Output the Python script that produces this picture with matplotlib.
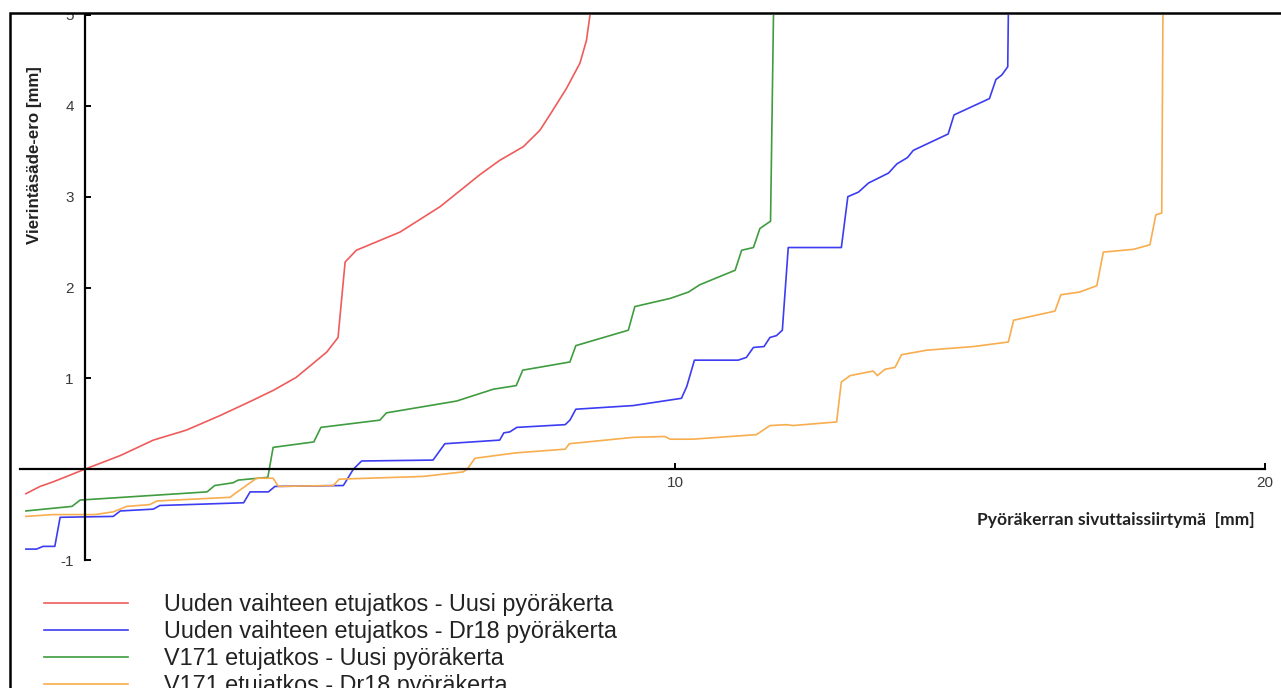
import matplotlib
matplotlib.use("Agg")
import matplotlib.pyplot as plt
from matplotlib.patches import Rectangle

# values (x = sideways shift [mm], y = rolling radius difference [mm])
red_x = [-1.0, -0.76, -0.54, 0.0, 0.6, 1.16, 1.72, 2.29, 2.85, 3.2, 3.58, 3.86, 4.1, 4.29,
         4.41, 4.6, 5.34, 6.02, 6.69, 7.03, 7.43, 7.71, 7.88, 8.16, 8.39, 8.5, 8.56]
red_y = [-0.27, -0.19, -0.14, 0.0, 0.15, 0.32, 0.43, 0.59, 0.76, 0.87, 1.01, 1.16, 1.29, 1.45,
         2.28, 2.41, 2.61, 2.89, 3.24, 3.40, 3.55, 3.73, 3.90, 4.19, 4.47, 4.72, 5.0]

blue_x = [-1.0, -0.82, -0.71, -0.51, -0.42, 0.48, 0.6, 1.16, 1.27, 2.69, 2.8, 3.11, 3.22,
          4.38, 4.55, 4.69, 5.9, 6.1, 7.03, 7.1, 7.2, 7.32, 8.14, 8.22, 8.32, 9.29, 10.11,
          10.2, 10.33, 11.07, 11.21, 11.33, 11.51, 11.61, 11.72, 11.82, 11.92, 12.82, 12.93,
          13.11, 13.28, 13.62, 13.76, 13.94, 14.04, 14.63, 14.73, 15.33, 15.44, 15.54, 15.64, 15.65]
blue_y = [-0.88, -0.88, -0.85, -0.85, -0.53, -0.52, -0.46, -0.44, -0.40, -0.37, -0.25, -0.25,
          -0.19, -0.18, 0.0, 0.09, 0.10, 0.28, 0.32, 0.40, 0.41, 0.46, 0.49, 0.54, 0.66, 0.70,
          0.78, 0.91, 1.20, 1.20, 1.23, 1.34, 1.35, 1.45, 1.47, 1.53, 2.44, 2.44, 3.0,
          3.05, 3.15, 3.26, 3.36, 3.43, 3.51, 3.69, 3.90, 4.08, 4.29, 4.34, 4.43, 5.0]

green_x = [-1.0, -0.22, -0.08, 2.07, 2.2, 2.51, 2.6, 3.1, 3.19, 3.88, 4.0, 5.0, 5.11, 6.3,
           6.92, 7.31, 7.42, 8.22, 8.32, 9.21, 9.32, 9.92, 10.23, 10.42, 11.02, 11.13,
           11.33, 11.44, 11.62, 11.67]
green_y = [-0.46, -0.41, -0.34, -0.25, -0.18, -0.15, -0.12, -0.09, 0.24, 0.30, 0.46, 0.54,
           0.62, 0.75, 0.88, 0.92, 1.09, 1.18, 1.36, 1.53, 1.79, 1.88, 1.95, 2.03, 2.19, 2.41,
           2.44, 2.65, 2.73, 5.0]

orange_x = [-1.0, -0.54, 0.17, 0.48, 0.71, 1.1, 1.22, 2.46, 2.54, 2.91, 3.19, 3.28, 4.21,
            4.31, 5.73, 6.41, 6.48, 6.61, 7.31, 8.14, 8.21, 9.29, 9.83, 9.92, 10.3, 11.38,
            11.61, 11.89, 12.0, 12.74, 12.82, 12.97, 13.36, 13.43, 13.56, 13.73, 13.84,
            14.27, 15.06, 15.65, 15.74, 16.44, 16.54, 16.86, 17.15, 17.26, 17.77, 18.05,
            18.15, 18.25, 18.27]
orange_y = [-0.52, -0.50, -0.50, -0.47, -0.41, -0.39, -0.35, -0.31, -0.27, -0.10, -0.10,
            -0.19, -0.18, -0.11, -0.08, -0.03, 0.0, 0.12, 0.18, 0.22, 0.28, 0.35, 0.36, 0.33,
            0.33, 0.38, 0.48, 0.49, 0.48, 0.52, 0.96, 1.03, 1.08, 1.03, 1.10, 1.12, 1.26,
            1.31, 1.35, 1.40, 1.64, 1.74, 1.92, 1.95, 2.02, 2.39, 2.42, 2.47, 2.80, 2.82, 5.0]

labels = ["Uuden vaihteen etujatkos - Uusi pyöräkerta",
          "Uuden vaihteen etujatkos - Dr18 pyöräkerta",
          "V171 etujatkos - Uusi pyöräkerta",
          "V171 etujatkos - Dr18 pyöräkerta"]

plt.rcParams['font.family'] = ['Liberation Sans', 'DejaVu Sans']
plt.rcParams['axes.unicode_minus'] = False

W, H = 1281, 688
fig = plt.figure(figsize=(W / 100, H / 100), dpi=100)
ax = fig.add_axes([20 / W, 128 / H, 1245 / W, 545 / H])

l_red, = ax.plot(red_x, red_y, color='#ef5b5b', lw=1.2)
l_blue, = ax.plot(blue_x, blue_y, color='#3c3cf2', lw=1.2)
l_green, = ax.plot(green_x, green_y, color='#3f9c3f', lw=1.2)
l_orange, = ax.plot(orange_x, orange_y, color='#f8ad4f', lw=1.2)

ax.set_xlim(-1.1, 20)
ax.set_ylim(-1, 5)

# axes crossing at origin
ax.spines['left'].set_position(('data', 0))
ax.spines['bottom'].set_position(('data', 0))
ax.spines['right'].set_visible(False)
ax.spines['top'].set_visible(False)
for s in ['left', 'bottom']:
    ax.spines[s].set_linewidth(1.6)

ax.set_xticks([10, 20])
ax.set_yticks([-1, 1, 2, 3, 4, 5])
ax.tick_params(direction='in', length=4, width=1.4, labelsize=11, labelcolor='#3a3a3a')
ax.tick_params(axis='y', pad=8)
ax.tick_params(axis='x', pad=5)

fig.text(35 / W, 1 - 155 / H, "Vierintäsäde-ero [mm]", rotation=90, ha='center', va='center',
         fontsize=12.2, fontweight='bold', color='#222222')
fig.text(1255 / W, 1 - 520 / H, "Pyöräkerran sivuttaissiirtymä  [mm]", ha='right', va='center',
         fontsize=12.6, fontweight='bold', color='#222222', family='Lato')

# legend runs off the bottom edge, as in the source image
leg = ax.legend([l_red, l_blue, l_green, l_orange], labels, loc='upper left',
                bbox_to_anchor=(44 / W, 1 - 593 / H), bbox_transform=fig.transFigure,
                frameon=False, fontsize=16.8, handlelength=3.6, handletextpad=1.55,
                labelspacing=0.17, borderpad=0, borderaxespad=0)
for t in leg.get_texts():
    t.set_color('#222222')

# outer frame, cut at the top like the source figure
fig.add_artist(Rectangle((0, 1 - 13 / H), 1, 13 / H, transform=fig.transFigure,
                         facecolor='white', edgecolor='none', zorder=5))
fig.add_artist(Rectangle((10 / W, -0.1), 1.2, 1 - 13 / H + 0.1, transform=fig.transFigure,
                         fill=False, edgecolor='black', lw=1.8, zorder=6))

fig.savefig("out.png", dpi=100)
